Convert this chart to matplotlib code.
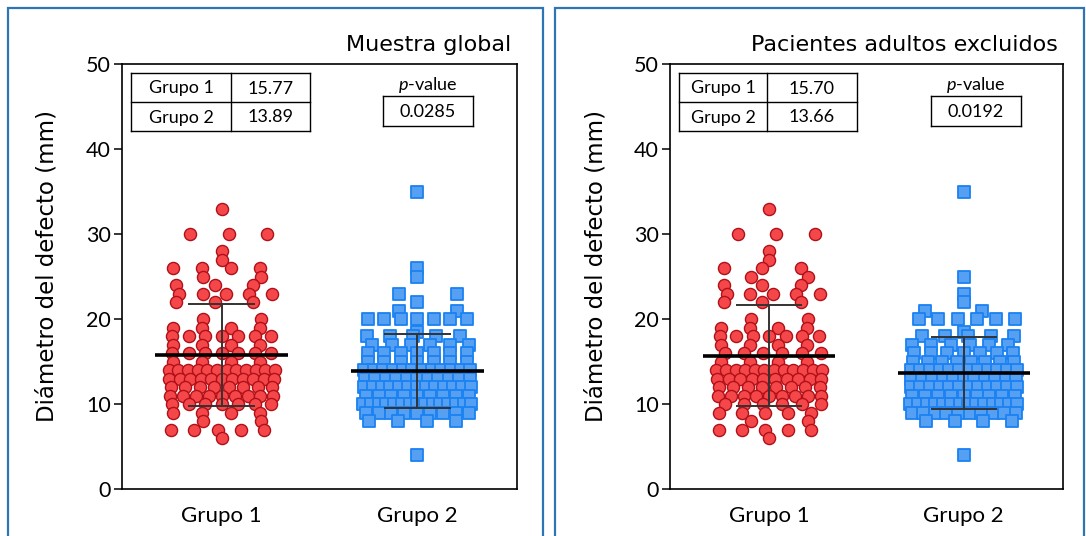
import numpy as np
import matplotlib
matplotlib.use("Agg")
import matplotlib.pyplot as plt
from matplotlib.patches import Rectangle
from matplotlib.lines import Line2D

plt.rcParams['mathtext.fontset'] = 'custom'
plt.rcParams['mathtext.rm'] = 'Lato'
plt.rcParams['mathtext.it'] = 'Lato:italic'

# ---------------- data ----------------
groups = ["Grupo 1", "Grupo 2"]
panel_titles = ["Muestra global", "Pacientes adultos excluidos"]

# measured diameters (mm) and how many patients share each value
g1_global_values = [33, 30, 28, 27, 26, 25, 24, 23, 22, 20, 19, 18, 17, 16, 15, 14, 13, 12, 11, 10, 9, 8, 7, 6]
g1_global_counts = [1, 3, 1, 1, 4, 2, 3, 5, 3, 2, 4, 7, 4, 7, 4, 12, 11, 8, 9, 7, 4, 2, 5, 1]

g2_global_values = [35, 26, 25, 23, 22, 21, 20, 18.5, 18, 17, 16, 15, 14, 13, 12, 11, 10, 9, 8, 4]
g2_global_counts = [1, 1, 1, 2, 1, 2, 7, 1, 5, 6, 7, 7, 12, 11, 13, 9, 15, 9, 4, 1]

g1_adult_values = [33, 30, 28, 27, 26, 25, 24, 23, 22, 20, 19, 18, 17, 16, 15, 14, 13, 12, 11, 10, 9, 8, 7, 6]
g1_adult_counts = [1, 3, 1, 1, 3, 2, 3, 5, 3, 2, 4, 7, 4, 6, 4, 12, 10, 8, 9, 6, 5, 2, 5, 1]

g2_adult_values = [35, 25, 23, 22, 21, 20, 18.5, 18, 17, 16, 15, 14, 13, 12, 11, 10, 9, 8, 4]
g2_adult_counts = [1, 1, 1, 1, 2, 6, 1, 5, 6, 7, 8, 12, 11, 12, 9, 14, 10, 4, 1]

# summary statistics reported in each panel
means_global = [15.77, 13.89]
means_adult = [15.70, 13.66]
sd_global = [5.95, 4.4]
sd_adult = [5.95, 4.25]
p_global = "0.0285"
p_adult = "0.0192"

# ---------------- styling ----------------
W, H = 1086, 536
RED_FACE, RED_EDGE = "#F5474A", "#B01018"
BLUE_FACE, BLUE_EDGE = "#56A0F4", "#1A82F2"
FRAME_BLUE = "#2E75B6"
TXT = "Lato"
PX = 1 / 195.5          # one pixel in x data units
ROW_WIDTH = 116.0       # pixels available to one row of tied values

fig = plt.figure(figsize=(W / 100, H / 100), dpi=100)


def fx(x):
    return x / W


def fy(y):
    return 1 - y / H


def row_offsets(n, row):
    """Pixel offsets for n tied values: each point takes the centre of an
    equal cell of the row; sparse rows are nudged alternately left/right."""
    cell = ROW_WIDTH / n
    offs = -ROW_WIDTH / 2 + (np.arange(n) + 0.5) * cell
    if 1 < n < 7:
        offs = offs + (1 if row % 2 else -1) * cell * 0.18
    return offs


def spread(values, counts, center):
    xs, ys = [], []
    for row, (v, n) in enumerate(zip(values, counts)):
        xs.extend(center + row_offsets(n, row) * PX)
        ys.extend([v] * n)
    return np.array(xs), np.array(ys)


def frame(x0, y0, x1, y1):
    fig.add_artist(Rectangle((fx(x0), fy(y1)), fx(x1) - fx(x0), fy(y0) - fy(y1),
                             transform=fig.transFigure, fill=False,
                             edgecolor=FRAME_BLUE, lw=1.6, clip_on=False))


def fline(x0, y0, x1, y1, lw=1.0):
    fig.add_artist(Line2D([fx(x0), fx(x1)], [fy(y0), fy(y1)],
                          transform=fig.transFigure, color="black", lw=lw))


def ftext(x, y, s, **kw):
    fig.text(fx(x), fy(y), s, transform=fig.transFigure, **kw)


def stats_table(x0, xdiv, x1, y0, ymid, y1, means):
    fline(x0, y0, x1, y0); fline(x0, y1, x1, y1); fline(x0, ymid, x1, ymid)
    fline(x0, y0, x0, y1); fline(x1, y0, x1, y1); fline(xdiv, y0, xdiv, y1)
    rows = [(y0 + ymid) / 2, (ymid + y1) / 2]
    for yc, g, m in zip(rows, groups, means):
        ftext((x0 + xdiv) / 2, yc + 1, g, ha="center", va="center",
              fontsize=13, family=TXT)
        ftext((xdiv + x1) / 2, yc + 1, f"{m:.2f}", ha="center", va="center",
              fontsize=13, family=TXT)


def pvalue_box(x0, x1, y0, y1, p):
    xc = (x0 + x1) / 2
    ftext(xc, 85, r"$\mathit{p}$-value", ha="center", va="center",
          fontsize=13, family=TXT)
    fline(x0, y0, x1, y0); fline(x0, y1, x1, y1)
    fline(x0, y0, x0, y1); fline(x1, y0, x1, y1)
    ftext(xc, (y0 + y1) / 2 + 1, p, ha="center", va="center",
          fontsize=13, family=TXT)


def panel(left_px, right_px, data, means, sds, title, title_x):
    ax = fig.add_axes([fx(left_px), fy(489), (right_px - left_px) / W, 425 / H])
    (v1, c1), (v2, c2) = data
    x1, y1 = spread(v1, c1, 0)
    x2, y2 = spread(v2, c2, 1)
    ax.scatter(x1, y1, s=76, marker="o", facecolor=RED_FACE, edgecolor=RED_EDGE,
               linewidth=1.0, zorder=2, clip_on=False)
    ax.scatter(x2, y2, s=70, marker="s", facecolor=BLUE_FACE, edgecolor=BLUE_EDGE,
               linewidth=1.3, zorder=2, clip_on=False)
    for i, (m, sd) in enumerate(zip(means, sds)):
        ax.hlines(m, i - 0.34, i + 0.34, color="black", lw=2.6, zorder=4)
        ax.vlines(i, m - sd, m + sd, color="#333333", lw=1.4, zorder=3)
        ax.hlines([m - sd, m + sd], i - 0.17, i + 0.17, color="#333333", lw=1.4, zorder=3)
    ax.set_xlim(-0.51, 1.51)
    ax.set_ylim(0, 50)
    ax.set_yticks([0, 10, 20, 30, 40, 50])
    ax.set_xticks([0, 1])
    ax.set_xticklabels(groups, fontsize=16, family=TXT)
    ax.tick_params(axis="x", length=0, pad=12)
    ax.tick_params(axis="y", length=6, width=1.1, labelsize=15.5, pad=2)
    for lab in ax.get_yticklabels():
        lab.set_family(TXT)
    for sp in ax.spines.values():
        sp.set_linewidth(1.2)
    ax.set_ylabel("Diámetro del defecto (mm)", fontsize=16.5, family="DejaVu Sans")
    ax.yaxis.set_label_coords(-0.16, 0.525)
    ftext(title_x, 45, title, ha="right", va="center", fontsize=16,
          family="DejaVu Sans")
    return ax


frame(8, 8, 543, 545)
frame(555, 8, 1084, 545)

panel(122, 517, [(g1_global_values, g1_global_counts), (g2_global_values, g2_global_counts)],
      means_global, sd_global, panel_titles[0], 511)
panel(670, 1063, [(g1_adult_values, g1_adult_counts), (g2_adult_values, g2_adult_counts)],
      means_adult, sd_adult, panel_titles[1], 1058)

stats_table(131, 231, 310, 73, 102, 131, means_global)
pvalue_box(383, 473, 96, 126, p_global)
stats_table(679, 767, 857, 73, 102, 131, means_adult)
pvalue_box(931, 1021, 96, 126, p_adult)

fig.savefig("out.png", dpi=100)
